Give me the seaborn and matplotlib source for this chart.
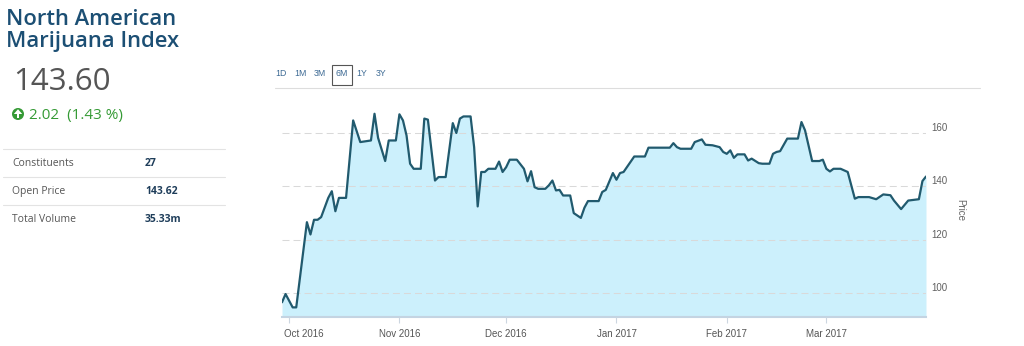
import matplotlib
matplotlib.use("Agg")
import matplotlib.pyplot as plt
import matplotlib.dates as mdates
from matplotlib.patches import Circle, Polygon, Rectangle
from matplotlib.transforms import ScaledTranslation
import seaborn as sns
import pandas as pd

# ---------------- data ----------------
dates = [
    "2016-09-29", "2016-09-30", "2016-10-02", "2016-10-03", "2016-10-06", "2016-10-07",
    "2016-10-08", "2016-10-09", "2016-10-10", "2016-10-12", "2016-10-13", "2016-10-14",
    "2016-10-15", "2016-10-17", "2016-10-19", "2016-10-21", "2016-10-24", "2016-10-25",
    "2016-10-26", "2016-10-28", "2016-10-29", "2016-10-31", "2016-11-01", "2016-11-02",
    "2016-11-03", "2016-11-04", "2016-11-05", "2016-11-07", "2016-11-08", "2016-11-09",
    "2016-11-11", "2016-11-12", "2016-11-14", "2016-11-16", "2016-11-17", "2016-11-18",
    "2016-11-19", "2016-11-21", "2016-11-22", "2016-11-23", "2016-11-24", "2016-11-25",
    "2016-11-26", "2016-11-28", "2016-11-29", "2016-11-30", "2016-12-01", "2016-12-02",
    "2016-12-04", "2016-12-06", "2016-12-07", "2016-12-08", "2016-12-09", "2016-12-10",
    "2016-12-12", "2016-12-13", "2016-12-14", "2016-12-15", "2016-12-16", "2016-12-17",
    "2016-12-19", "2016-12-20", "2016-12-22", "2016-12-23", "2016-12-24", "2016-12-27",
    "2016-12-28", "2016-12-29", "2016-12-31", "2017-01-01", "2017-01-02", "2017-01-03",
    "2017-01-06", "2017-01-09", "2017-01-10", "2017-01-16", "2017-01-17", "2017-01-18",
    "2017-01-19", "2017-01-22", "2017-01-23", "2017-01-25", "2017-01-26", "2017-01-28",
    "2017-01-30", "2017-01-31", "2017-02-01", "2017-02-02", "2017-02-03", "2017-02-04",
    "2017-02-06", "2017-02-07", "2017-02-08", "2017-02-10", "2017-02-11", "2017-02-13",
    "2017-02-14", "2017-02-15", "2017-02-16", "2017-02-18", "2017-02-21", "2017-02-22",
    "2017-02-23", "2017-02-25", "2017-02-27", "2017-02-28", "2017-03-01", "2017-03-02",
    "2017-03-03", "2017-03-05", "2017-03-07", "2017-03-09", "2017-03-10", "2017-03-13",
    "2017-03-15", "2017-03-17", "2017-03-19", "2017-03-20", "2017-03-22", "2017-03-24",
    "2017-03-27", "2017-03-28", "2017-03-29",
]
prices = [
    96.5, 99.6, 94.6, 94.6, 126.5, 121.9,
    127.4, 127.4, 128.4, 135.6, 138.1, 130.6,
    135.6, 135.6, 164.6, 156.5, 157.1, 167.1,
    158.1, 149.4, 157.1, 157.1, 166.9, 164.6,
    159.0, 148.4, 146.5, 146.5, 165.3, 164.9,
    142.1, 143.4, 143.4, 163.6, 159.9, 165.3,
    166.1, 166.1, 154.6, 132.4, 145.3, 145.3,
    146.5, 146.5, 149.2, 145.3, 147.1, 149.9,
    149.9, 146.5, 141.8, 145.6, 139.6, 139.0,
    139.0, 140.3, 142.1, 138.4, 138.6, 136.5,
    136.5, 129.9, 128.1, 131.9, 134.4, 134.4,
    137.8, 138.6, 144.9, 142.4, 144.9, 145.3,
    151.1, 151.1, 154.4, 154.4, 156.1, 154.6,
    154.0, 154.0, 156.5, 157.5, 155.5, 155.3,
    154.6, 152.8, 152.1, 153.4, 150.6, 151.9,
    151.9, 149.6, 150.3, 148.6, 148.4, 148.4,
    152.1, 152.8, 153.1, 157.8, 157.8, 164.0,
    160.9, 149.4, 149.4, 149.9, 146.5, 145.5,
    146.5, 146.5, 145.3, 135.3, 135.9, 135.9,
    135.1, 136.9, 136.6, 134.6, 131.4, 134.6,
    135.1, 141.9, 143.6,
]

title_lines = ["North American", "Marijuana Index"]
last_price = "143.60"
change_text = "2.02  (1.43 %)"
stat_labels = ["Constituents", "Open Price", "Total Volume"]
stat_values = ["27", "143.62", "35.33m"]
range_buttons = ["1D", "1M", "3M", "6M", "1Y", "3Y"]
active_button = "6M"
y_ticks = [100, 120, 140, 160]
x_tick_dates = ["2016-10-01", "2016-11-01", "2016-12-01",
                "2017-01-01", "2017-02-01", "2017-03-01"]
y_axis_title = "Price"

# ---------------- style ----------------
W, H = 1024, 346
sns.set_theme(style="white")
plt.rcParams["font.family"] = ["Liberation Sans", "DejaVu Sans"]

LINE = "#215a6e"
FILL = "#ccf0fc"
NAVY = "#1c4f74"
GREEN = "#359a35"
OPEN = ["Open Sans", "DejaVu Sans"]

fig = plt.figure(figsize=(W / 100, H / 100), dpi=100)
fig.patch.set_facecolor("white")

# overlay in pixel coordinates for the left info panel / toolbar
ov = fig.add_axes([0, 0, 1, 1])
ov.set_xlim(0, W)
ov.set_ylim(H, 0)
ov.axis("off")

ov.text(6, 25, title_lines[0], fontsize=15.8, family=OPEN,
        weight="semibold", color=NAVY, va="baseline", ha="left")
ov.text(6, 47, title_lines[1], fontsize=15.8, family=OPEN,
        weight="semibold", color=NAVY, va="baseline", ha="left")
ov.text(13, 90, last_price, fontsize=22.5, family=OPEN,
        color="#555555", va="baseline", ha="left")

# green up-arrow icon
ov.add_patch(Circle((18, 114), 6, color=GREEN, lw=0))
ov.add_patch(Polygon([(18, 109.2), (13.8, 114), (22.2, 114)], closed=True, color="white", lw=0))
ov.add_patch(Rectangle((16.6, 113.5), 2.8, 4.3, color="white", lw=0))
ov.text(29, 119, change_text, fontsize=11, family=OPEN,
        color=GREEN, va="baseline", ha="left")

# stats table
for yy in [148.5, 176.5, 205]:
    ov.plot([3, 225], [yy, yy], color="#e3e3e3", lw=0.8)
for i, (lab, val) in enumerate(zip(stat_labels, stat_values)):
    yc = 163 + i * 28.3
    ov.text(12, yc, lab, fontsize=7.5, family=OPEN,
            color="#555555", va="center", ha="left")
    ov.text(145, yc, val, fontsize=7.5, family=OPEN,
            weight="bold", color="#1e3d5a", va="center", ha="left")

# range buttons
btn_x = [281, 300, 319.5, 341.5, 362, 381.5]
for bx, b in zip(btn_x, range_buttons):
    ov.text(bx, 74, b, fontsize=6.3, color="#3d6a94", ha="center", va="center")
    if b == active_button:
        ov.add_patch(Rectangle((bx - 10, 64.5), 20, 20.5, fill=False,
                               edgecolor="#555555", lw=0.8))
ov.plot([275, 980], [87.5, 87.5], color="#dddddd", lw=0.8)

ov.text(960, 210, y_axis_title, rotation=270, fontsize=7, color="#666666",
        ha="center", va="center")

# ---------------- main chart ----------------
df = pd.DataFrame({"date": pd.to_datetime(dates), "price": prices})

ax = fig.add_axes([282 / W, 1 - 317 / H, 644 / W, 227 / H])
ax.set_facecolor("none")
ax.set_ylim(91, 176)
ax.fill_between(df["date"], df["price"], ax.get_ylim()[0], color=FILL, lw=0, zorder=1)
sns.lineplot(data=df, x="date", y="price", ax=ax, color=LINE, lw=1.6, zorder=3)
ax.set_xlim(df["date"].iloc[0], df["date"].iloc[-1])
ax.set_xlabel("")
ax.set_ylabel("")

ax.set_axisbelow(False)
ax.yaxis.grid(True, color="#d9d9d9", lw=0.75, linestyle=(0, (6.7, 3.9)))
ax.xaxis.grid(False)

for s in ["left", "top", "right"]:
    ax.spines[s].set_visible(False)
ax.spines["bottom"].set_color("#c4d4e2")
ax.spines["bottom"].set_linewidth(1.5)

ax.yaxis.tick_right()
ax.set_yticks(y_ticks)
ax.tick_params(axis="y", length=0, pad=4, labelsize=7, labelcolor="#606060",
               left=False, right=False)
up = ScaledTranslation(0, 6 / 100, fig.dpi_scale_trans)
for t in ax.yaxis.get_major_ticks():
    t.label2.set_transform(t.label2.get_transform() + up)

ax.set_xticks(pd.to_datetime(x_tick_dates))
ax.xaxis.set_major_formatter(mdates.DateFormatter("%b %Y"))
ax.tick_params(axis="x", bottom=True, length=4, width=0.8, color="#ccd6e0",
               pad=4.5, labelsize=7, labelcolor="#555555")
first = ax.xaxis.get_major_ticks()[0].label1
first.set_horizontalalignment("left")
first.set_transform(first.get_transform() + ScaledTranslation(-5 / 100, 0, fig.dpi_scale_trans))

fig.savefig("out.png", dpi=100, facecolor="white")
